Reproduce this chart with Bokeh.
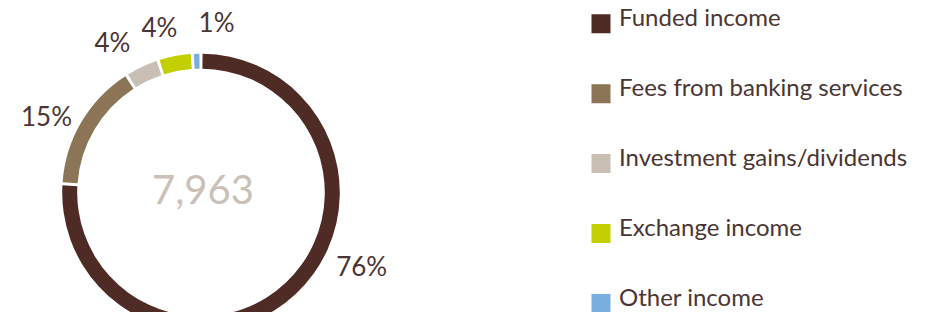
import numpy as np
from bokeh.plotting import figure
from bokeh.models import Range1d, ColumnDataSource
from bokeh.core.properties import value
from bokeh.embed import file_html
from bokeh.resources import INLINE

# ---- data ----
categories = ["Funded income", "Fees from banking services",
              "Investment gains/dividends", "Exchange income", "Other income"]
shares = [76, 15, 4, 4, 1]
pct_labels = ["76%", "15%", "4%", "4%", "1%"]
total_label = "7,963"
colors = ["#4F2B25", "#8C7556", "#C9BFB4", "#C3CF00", "#7AAEDF"]

# ---- layout / style ----
W, H = 920, 312
FONT = "Lato"
TEXT_COLOR = "#4B3533"
CX, CY = 200.5, H - 192          # donut centre (data units == pixels)
R_OUT, R_IN = 138.8, 123.8
GAP = np.deg2rad(1.3)
label_offset_deg = [21.3, 5.2, 5.8, 3.5, -7.1]
label_radius = [178, 171, 172, 168, 168]
LABEL_LIFT = 3
LEG_X = 600.5
LEG_Y0 = H - 23.3
LEG_STEP = 69.9
LEG_SIZE = 19
LEG_TEXT_LIFT = 6.9

p = figure(width=W, height=H, output_backend="svg", toolbar_location=None,
           x_range=Range1d(0, W), y_range=Range1d(0, H),
           min_border=0)
p.axis.visible = False
p.grid.visible = False
p.outline_line_color = None
p.background_fill_color = "white"
p.border_fill_color = "white"

frac = np.array(shares, dtype=float) / sum(shares)
spans = frac * 2 * np.pi
starts = np.pi / 2 - np.concatenate([[0], np.cumsum(spans)[:-1]])
ends = starts - spans
mids = (starts + ends) / 2

wedges = ColumnDataSource(dict(
    start=ends + GAP / 2, end=starts - GAP / 2, color=colors, cat=categories))
p.annular_wedge(x=CX, y=CY, inner_radius=R_IN, outer_radius=R_OUT,
                start_angle="start", end_angle="end", direction="anticlock",
                fill_color="color", line_color=None, source=wedges)

la = mids + np.deg2rad(label_offset_deg)
lr = np.array(label_radius)
labels = ColumnDataSource(dict(x=CX + lr * np.cos(la),
                               y=CY + lr * np.sin(la) + LABEL_LIFT,
                               text=pct_labels))
p.text(x="x", y="y", text="text", source=labels, text_align="center",
       text_baseline="middle", text_font=value(FONT), text_font_size="26px",
       text_color=TEXT_COLOR)

p.text(x=[CX + 2], y=[CY + 3.5], text=[total_label], text_align="center",
       text_baseline="middle", text_font=value(FONT), text_font_size="40px",
       text_color="#CBC0B6")

n = len(categories)
leg_y = LEG_Y0 - LEG_STEP * np.arange(n)
leg = ColumnDataSource(dict(x=[LEG_X] * n, y=leg_y, color=colors,
                            tx=[LEG_X + 18] * n, ty=leg_y + LEG_TEXT_LIFT,
                            text=categories))
p.rect(x="x", y="y", width=LEG_SIZE, height=LEG_SIZE, fill_color="color",
       line_color=None, source=leg)
p.text(x="tx", y="ty", text="text", source=leg, text_align="left",
       text_baseline="middle", text_font=value(FONT), text_font_size="24px",
       text_color=TEXT_COLOR)

open("out.html", "w").write(file_html(p, INLINE))
